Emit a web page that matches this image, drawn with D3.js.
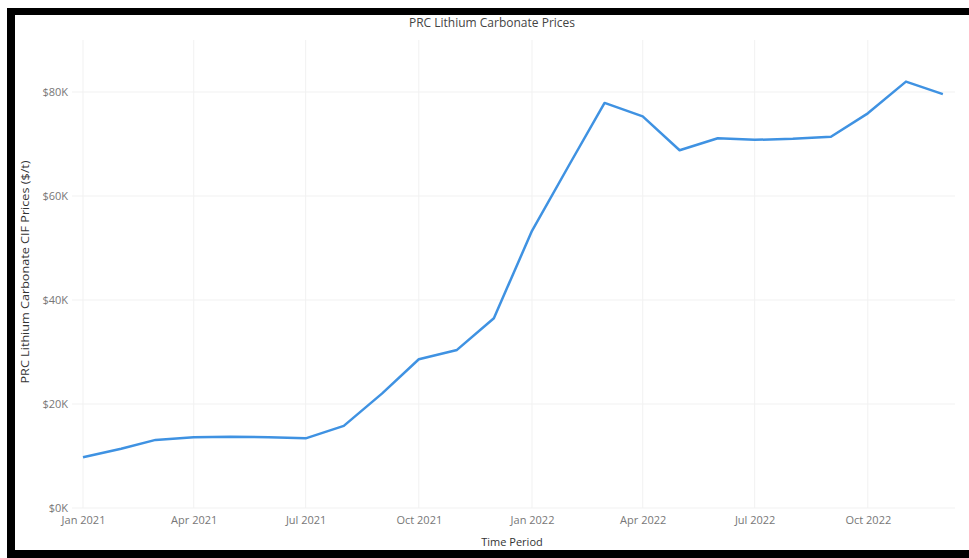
<!DOCTYPE html>
<html>
 <head>
  <script type="text/javascript" src="https://cdn.jsdelivr.net/npm/d3@7/dist/d3.min.js"></script>
  <style>
   body { margin:0; background:#ffffff; }
   text { font-family: "Open Sans", sans-serif; }
  </style>
  <script type="text/javascript">
  // monthly points, Jan 2021 .. Dec 2022
  var months = ["2021-01","2021-02","2021-03","2021-04","2021-05","2021-06","2021-07","2021-08","2021-09","2021-10","2021-11","2021-12",
                "2022-01","2022-02","2022-03","2022-04","2022-05","2022-06","2022-07","2022-08","2022-09","2022-10","2022-11","2022-12"]
  var prices = [9750,11400,13100,13600,13700,13600,13400,15800,22000,28600,30400,36500,
                53300,66300,77900,75300,68800,71100,70800,71000,71400,75900,82000,79600]
  var yTicks = [0,20000,40000,60000,80000]
  var xTickMonths = ["2021-01","2021-04","2021-07","2021-10","2022-01","2022-04","2022-07","2022-10"]

  var titleText = "PRC Lithium Carbonate Prices"
  var xTitleText = "Time Period"
  var yTitleText = "PRC Lithium Carbonate CIF Prices ($/t)"

  function myFunction(){
    var width = 969, height = 558
    var id = "chart"
    var lineColor = "#3f92e2"
    var gridColor = "#f1f1f1"
    var labelColor = "#777777"

    addSvg(width,height,id)
    var svg = d3.select("#"+id)
    var parse = d3.timeParse("%Y-%m")

    var x = d3.scaleTime()
              .domain([parse("2021-01"), parse("2022-01")])
              .range([83, 532])
    var y = d3.scaleLinear()
              .domain([0, 80000])
              .range([508, 92])

    var data = months.map(function(m,i){ return {date: parse(m), value: prices[i]} })

    // faint grid
    var grid = svg.append("g")
    yTicks.forEach(function(t){
      grid.append("line").attr("x1",72).attr("x2",955).attr("y1",y(t)).attr("y2",y(t))
          .attr("stroke",gridColor).attr("stroke-width",1)
    })
    xTickMonths.forEach(function(m){
      grid.append("line").attr("x1",x(parse(m))).attr("x2",x(parse(m))).attr("y1",40).attr("y2",508)
          .attr("stroke",gridColor).attr("stroke-width",1)
    })

    // y axis labels
    var yAxis = d3.axisLeft(y).tickValues(yTicks).tickSize(0).tickPadding(0)
                  .tickFormat(function(d){ return "$" + (d/1000) + "K" })
    var gy = svg.append("g").attr("transform","translate(68,0)").call(yAxis)
    gy.select(".domain").remove()
    gy.selectAll("text").attr("fill",labelColor).style("font-size","11px").attr("dy","0.32em")

    // x axis labels
    var xAxis = d3.axisBottom(x).tickValues(xTickMonths.map(parse)).tickSize(0).tickPadding(0)
                  .tickFormat(d3.timeFormat("%b %Y"))
    var gx = svg.append("g").attr("transform","translate(0,516)").call(xAxis)
    gx.select(".domain").remove()
    gx.selectAll("text").attr("fill",labelColor).style("font-size","11px").attr("dy","0.71em")

    // the line
    var line = d3.line().x(function(d){ return x(d.date) }).y(function(d){ return y(d.value) })
    svg.append("path").datum(data)
       .attr("d",line)
       .attr("fill","none")
       .attr("stroke",lineColor)
       .attr("stroke-width",2.5)
       .attr("stroke-linejoin","round")

    // titles
    svg.append("text").attr("x",492).attr("y",27).attr("text-anchor","middle")
       .attr("fill","#444").style("font-size","12px").text(titleText)
    svg.append("text").attr("x",512).attr("y",546).attr("text-anchor","middle")
       .attr("fill","#333").style("font-size","11px").text(xTitleText)
    svg.append("text").attr("transform","translate(29,272) rotate(-90)").attr("text-anchor","middle")
       .attr("textLength",223).attr("lengthAdjust","spacingAndGlyphs")
       .attr("fill","#333").style("font-size","10px").text(yTitleText)

    // black frame
    addRect(id,0,0,width,8,"fill:#ffffff")
    addRect(id,0,0,7,height,"fill:#ffffff")
    addRect(id,7,8,width-7,7,"fill:#000000")
    addRect(id,7,8,8,height-8,"fill:#000000")
    addRect(id,7,550,width-7,8,"fill:#000000")
  }

  function addSvg(width,height,id){
    d3.select("body").append("svg")
      .attr("width",width)
      .attr("height",height)
      .attr("id",id)
  }

  function addRect(svgtag,x,y,width,height,style){
    d3.select("#"+svgtag).append("rect")
      .attr("x",x)
      .attr("y",y)
      .attr("width",width)
      .attr("height",height)
      .attr("style",style)
  }
  </script>
 </head>
 <body onload="myFunction()">
 </body>
</html>
